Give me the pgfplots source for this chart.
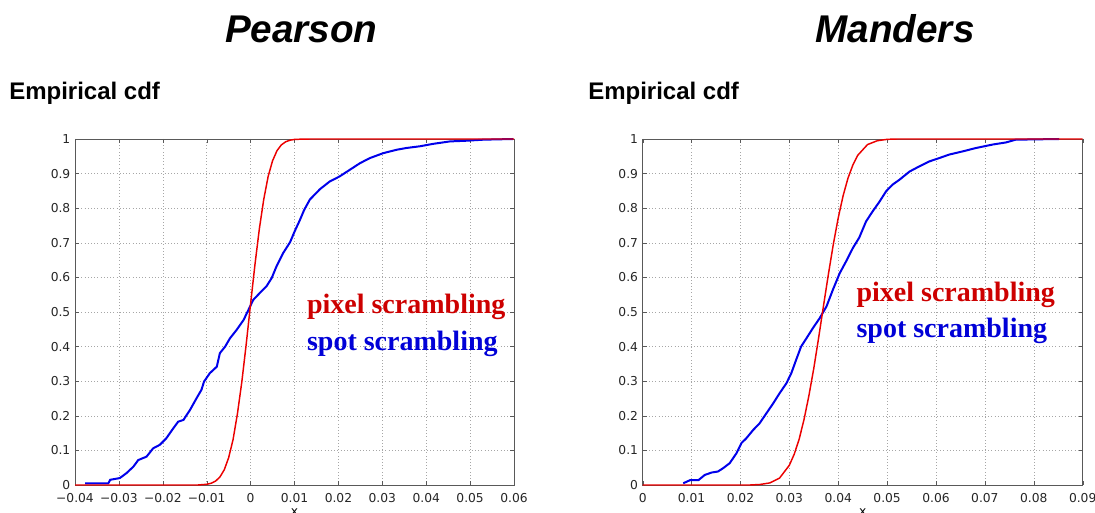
\documentclass[border=0pt]{standalone}
\usepackage{fontspec}
\setmainfont{Liberation Sans}
\newfontfamily\tickfont{DejaVu Sans}
\newfontfamily\legfont{Liberation Serif}
\usepackage{pgfplots}
\pgfplotsset{compat=1.18}

\definecolor{lred}{RGB}{235,0,0}
\definecolor{lblue}{RGB}{0,0,235}
\definecolor{tred}{RGB}{205,0,0}
\definecolor{tblue}{RGB}{0,0,215}

\pgfplotsset{
  cdfaxis/.style={
    scale only axis, anchor=south west, clip=false,
    height=259.5pt,
    ymin=0, ymax=1,
    ytick={0,0.1,0.2,0.3,0.4,0.5,0.6,0.7,0.8,0.9,1},
    yticklabels={0,0.1,0.2,0.3,0.4,0.5,0.6,0.7,0.8,0.9,1},
    grid=major,
    major grid style={dotted, black!35},
    axis line style={black!65, line width=0.6pt},
    major tick style={black!65},
    major tick length=3pt,
    tick label style={font=\tickfont\fontsize{9.2}{10}\selectfont, text=black!85},
    xticklabel style={yshift=-2.5pt},
    yticklabel style={xshift=0pt},
  },
  redcurve/.style={lred, line width=1.1pt},
  bluecurve/.style={lblue, line width=1.5pt},
}
\tikzset{
  legtext/.style={anchor=base west, inner sep=0, font=\legfont\bfseries\fontsize{21}{24}\selectfont},
  xlab/.style={anchor=north, inner sep=0, font=\tickfont\fontsize{9.2}{10}\selectfont, yshift=-17.5pt},
}

\begin{document}
\begin{tikzpicture}
\useasboundingbox (0,0) rectangle (821.25pt,384.75pt);

\node[anchor=base, inner sep=0, font=\bfseries\itshape\fontsize{29}{30}\selectfont] at (226pt,352.5pt) {Pearson};
\node[anchor=base, inner sep=0, font=\bfseries\itshape\fontsize{29}{30}\selectfont] at (671.25pt,352.5pt) {Manders};
\node[anchor=base west, inner sep=0, font=\bfseries\fontsize{18}{20}\selectfont] at (6.75pt,309.75pt) {Empirical cdf};
\node[anchor=base west, inner sep=0, font=\bfseries\fontsize{18}{20}\selectfont] at (441pt,309.75pt) {Empirical cdf};

% Pearson
\begin{axis}[cdfaxis, at={(56.25pt,21pt)}, width=329.25pt,
  xmin=-0.04, xmax=0.06,
  xtick={-0.04,-0.03,-0.02,-0.01,0,0.01,0.02,0.03,0.04,0.05,0.06},
  xticklabels={−0.04,−0.03,−0.02,−0.01,0,0.01,0.02,0.03,0.04,0.05,0.06}]
\addplot[bluecurve] coordinates {
(-0.0377,0.005) (-0.0324,0.005) (-0.0320,0.015) (-0.0298,0.020) (-0.0283,0.034)
(-0.0267,0.053) (-0.0256,0.072) (-0.0237,0.082) (-0.0222,0.106) (-0.0207,0.116)
(-0.0192,0.135) (-0.0176,0.164) (-0.0165,0.183) (-0.0153,0.188) (-0.0138,0.217)
(-0.0123,0.251) (-0.0112,0.275) (-0.0106,0.299) (-0.0093,0.323) (-0.0077,0.342)
(-0.0070,0.381) (-0.0058,0.400) (-0.0047,0.424) (-0.0032,0.448) (-0.0016,0.477)
(-0.0005,0.506) (0.0006,0.535) (0.0021,0.555) (0.0036,0.574) (0.0048,0.598)
(0.0059,0.632) (0.0074,0.670) (0.0090,0.702) (0.0101,0.735) (0.0112,0.765)
(0.0122,0.795) (0.0135,0.825) (0.0158,0.855) (0.0180,0.877) (0.0203,0.892)
(0.0226,0.911) (0.0249,0.930) (0.0272,0.945) (0.0302,0.959) (0.0333,0.969)
(0.0355,0.974) (0.0386,0.979) (0.0416,0.986) (0.0454,0.993) (0.0492,0.995)
(0.0530,0.998) (0.0598,1.000)
};
\addplot[redcurve] coordinates {
(-0.04,0) (-0.012,0) (-0.010,0.002) (-0.009,0.005) (-0.008,0.011) (-0.007,0.023)
(-0.006,0.044) (-0.005,0.079) (-0.004,0.131) (-0.003,0.206) (-0.002,0.298)
(-0.001,0.407) (0,0.524) (0.001,0.638) (0.002,0.741) (0.003,0.826) (0.004,0.892)
(0.005,0.937) (0.006,0.966) (0.007,0.983) (0.008,0.992) (0.009,0.9966)
(0.010,0.9987) (0.012,0.9998) (0.014,1) (0.06,1)
};
\node[legtext, text=tred] at (axis cs:0.0128,0.497) {pixel scrambling};
\node[legtext, text=tblue] at (axis cs:0.0128,0.390) {spot scrambling};
\node[xlab] at (axis description cs:0.5,0) {x};
\end{axis}

% Manders
\begin{axis}[cdfaxis, at={(482pt,21pt)}, width=330pt,
  xmin=0, xmax=0.09,
  xtick={0,0.01,0.02,0.03,0.04,0.05,0.06,0.07,0.08,0.09},
  xticklabels={0,0.01,0.02,0.03,0.04,0.05,0.06,0.07,0.08,0.09}]
\addplot[bluecurve] coordinates {
(0.0083,0.005) (0.0097,0.014) (0.0114,0.014) (0.0127,0.029) (0.0141,0.036)
(0.0154,0.039) (0.0164,0.048) (0.0178,0.063) (0.0192,0.092) (0.0202,0.121)
(0.0212,0.135) (0.0226,0.159) (0.0239,0.178) (0.0253,0.207) (0.0267,0.236)
(0.0280,0.265) (0.0294,0.294) (0.0304,0.323) (0.0314,0.362) (0.0324,0.400)
(0.0335,0.424) (0.0348,0.453) (0.0362,0.482) (0.0376,0.516) (0.0389,0.564)
(0.0403,0.612) (0.0416,0.646) (0.0430,0.685) (0.0443,0.715) (0.0457,0.762)
(0.0471,0.792) (0.0484,0.818) (0.0498,0.849) (0.0511,0.868) (0.0525,0.882)
(0.0546,0.906) (0.0566,0.921) (0.0586,0.935) (0.0607,0.945) (0.0627,0.955)
(0.0654,0.964) (0.0682,0.974) (0.0716,0.984) (0.0743,0.990) (0.0763,0.998)
(0.0852,1.000)
};
\addplot[redcurve] coordinates {
(0,0) (0.022,0) (0.024,0.0015) (0.026,0.006) (0.028,0.020) (0.030,0.057)
(0.031,0.089) (0.032,0.132) (0.033,0.189) (0.034,0.258) (0.035,0.337)
(0.036,0.426) (0.037,0.519) (0.038,0.610) (0.039,0.696) (0.040,0.772)
(0.041,0.836) (0.042,0.887) (0.043,0.925) (0.044,0.953) (0.046,0.984)
(0.048,0.995) (0.050,0.999) (0.052,1) (0.09,1)
};
\node[legtext, text=tred] at (axis cs:0.0437,0.529) {pixel scrambling};
\node[legtext, text=tblue] at (axis cs:0.0437,0.425) {spot scrambling};
\node[xlab] at (axis description cs:0.5,0) {x};
\end{axis}
\end{tikzpicture}
\end{document}
